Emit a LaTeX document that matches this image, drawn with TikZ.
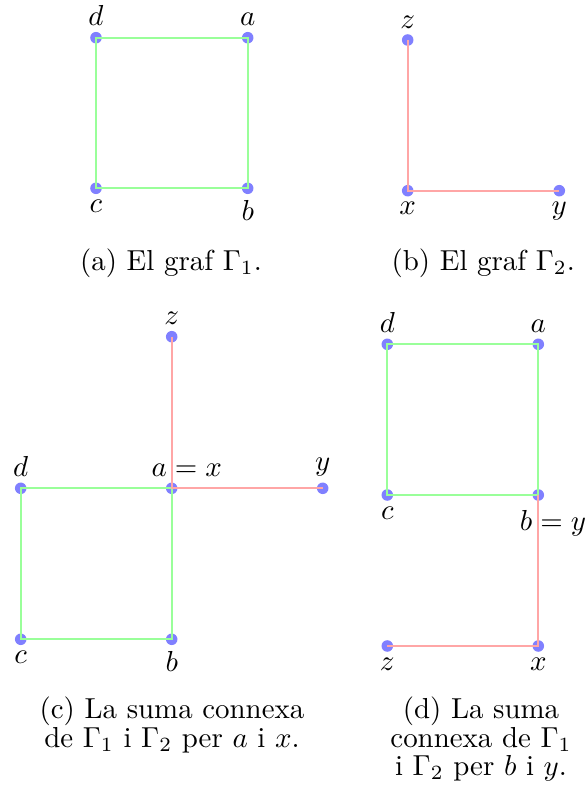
\documentclass[tikz,border=0pt]{standalone}
\usetikzlibrary{calc}
\begin{document}
\begin{tikzpicture}[x=0.346pt, y=-0.346pt,
  dot/.style={circle, fill=blue!50, inner sep=0pt, minimum size=4pt},
  gedge/.style={draw=green!40, line width=0.6pt},
  redge/.style={draw=red!35, line width=0.6pt},
  every label/.style={inner sep=0pt},
  label distance=1.7pt,
  captext/.style={align=center, font=\fontsize{10}{9.8}\selectfont, inner sep=0pt, anchor=north}]
\useasboundingbox (0,0) rectangle (587,796);

% (a)
\node[dot, label=above:$d$] (d1) at (96,37.7) {};
\node[dot, label=above:$a$] (a1) at (247.7,37.7) {};
\node[dot, label=below:$c$] (c1) at (96,188.3) {};
\node[dot, label=below:$b$] (b1) at (247.7,188.3) {};
\draw[gedge] (d1.center) -- (a1.center) -- (b1.center) -- (c1.center) -- cycle;
\node[captext] (capa) at (171,248.3) {(a) El graf $\Gamma_1$.};

% (b)
\node[dot, label=above:$z$] (z2) at (407.7,40) {};
\node[dot, label=below:$x$] (x2) at (407.7,190.7) {};
\node[dot, label=below:$y$] (y2) at (559.3,190.7) {};
\draw[redge] (z2.center) -- (x2.center) -- (y2.center);
\node[captext] (capb) at (483.3,248.3) {(b) El graf $\Gamma_2$.};

% (c)
\node[dot, label=above:$z$] (z3) at (171.7,336.7) {};
\node[dot, label={[xshift=5.2pt]above:$a=x$}] (a3) at (171.7,488.3) {};
\node[dot, label=above:$y$] (y3) at (322.7,488.3) {};
\node[dot, label=above:$d$] (d3) at (20.7,488.3) {};
\node[dot, label=below:$c$] (c3) at (20.7,639.3) {};
\node[dot, label=below:$b$] (b3) at (171.7,639.3) {};
\draw[gedge] (d3.center) -- (a3.center) -- (b3.center) -- (c3.center) -- cycle;
\draw[redge] (z3.center) -- (a3.center) -- (y3.center);
\node[captext] (capc) at (172,696.6) {(c) La suma connexa\\de $\Gamma_1$ i $\Gamma_2$ per $a$ i $x$.};

% (d)
\node[dot, label=above:$d$] (d4) at (387.3,344.3) {};
\node[dot, label=above:$a$] (a4) at (538.3,344.3) {};
\node[dot, label=below:$c$] (c4) at (387.3,495) {};
\node[dot, label={[xshift=5.1pt, yshift=-1.4pt]below:$b=y$}] (b4) at (538.3,495) {};
\node[dot, label=below:$z$] (z4) at (387.3,646) {};
\node[dot, label=below:$x$] (x4) at (538.3,646) {};
\draw[gedge] (d4.center) -- (a4.center) -- (b4.center) -- (c4.center) -- cycle;
\draw[redge] (b4.center) -- (x4.center) -- (z4.center);
\node[captext] (capd) at (481,696.6) {(d) La suma\\connexa de $\Gamma_1$\\i $\Gamma_2$ per $b$ i $y$.};
\end{tikzpicture}
\end{document}
